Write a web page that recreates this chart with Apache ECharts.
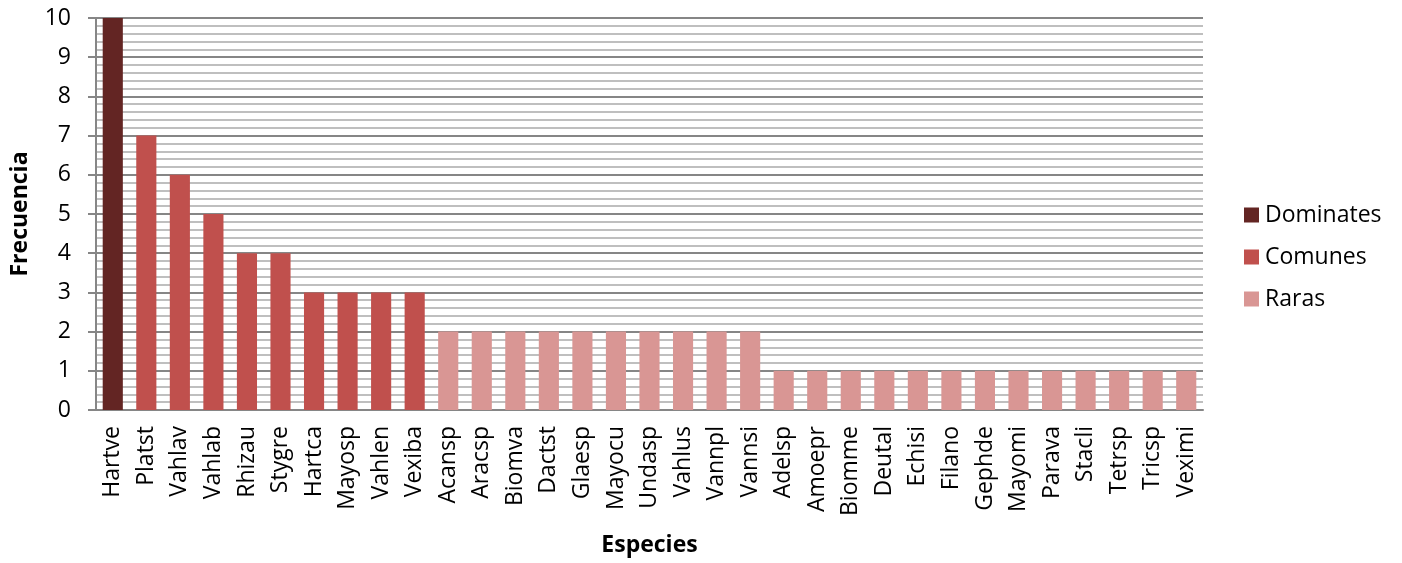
<!DOCTYPE html>
<html>
<head>
<meta charset="utf-8">
<script src="https://cdn.jsdelivr.net/npm/echarts@6/dist/echarts.min.js"></script>
<style>html,body{margin:0;padding:0;background:#fff}#c{width:1402px;height:563px}</style>
</head>
<body>
<div id="c"></div>
<script>
const categories = ["Hartve","Platst","Vahlav","Vahlab","Rhizau","Stygre","Hartca","Mayosp","Vahlen","Vexiba",
  "Acansp","Aracsp","Biomva","Dactst","Glaesp","Mayocu","Undasp","Vahlus","Vannpl","Vannsi",
  "Adelsp","Amoepr","Biomme","Deutal","Echisi","Filano","Gephde","Mayomi","Parava","Stacli","Tetrsp","Tricsp","Veximi"];
const dominates = [10,null,null,null,null,null,null,null,null,null,
  null,null,null,null,null,null,null,null,null,null,
  null,null,null,null,null,null,null,null,null,null,null,null,null];
const comunes = [null,7,6,5,4,4,3,3,3,3,
  null,null,null,null,null,null,null,null,null,null,
  null,null,null,null,null,null,null,null,null,null,null,null,null];
const raras = [null,null,null,null,null,null,null,null,null,null,
  2,2,2,2,2,2,2,2,2,2,
  1,1,1,1,1,1,1,1,1,1,1,1,1];
const seriesNames = ["Dominates","Comunes","Raras"];
const yTicks = [0,1,2,3,4,5,6,7,8,9,10];

const FONT = "'Open Sans', sans-serif";
const FS = 23;
const chart = echarts.init(document.getElementById('c'), null, {renderer:'canvas'});
const colors = ['#632523','#C0504D','#D99694'];
const dataSets = [dominates, comunes, raras];
chart.setOption({
  animation:false,
  textStyle:{fontFamily:FONT},
  grid:{left:96,right:199,top:18,bottom:153,containLabel:false,outerBoundsMode:'none'},
  legend:{
    orient:'vertical', left:1244, top:203, itemGap:18, padding:0,
    itemWidth:15, itemHeight:15, icon:'rect',
    textStyle:{fontFamily:FONT,fontSize:FS,lineHeight:24,color:'#000',padding:[0,0,0,1]},
    data:seriesNames
  },
  xAxis:{
    type:'category', data:categories,
    name:'Especies', nameLocation:'middle', nameGap:124,
    nameTextStyle:{fontFamily:FONT,fontSize:FS,fontWeight:'bold',color:'#000'},
    axisLine:{lineStyle:{color:'#868686',width:2}},
    axisTick:{show:false},
    axisLabel:{rotate:90,interval:0,fontSize:FS,color:'#000',margin:16,fontFamily:FONT},
    splitLine:{show:false}
  },
  yAxis:{
    type:'value', min:0, max:10, interval:1,
    name:'Frecuencia', nameLocation:'middle', nameGap:64,
    nameTextStyle:{fontFamily:FONT,fontSize:FS,fontWeight:'bold',color:'#000'},
    axisLine:{show:true,lineStyle:{color:'#868686',width:2}},
    axisTick:{show:true,length:8,lineStyle:{color:'#868686',width:2}},
    axisLabel:{fontSize:FS,color:'#000',margin:25,fontFamily:FONT,
      formatter:v=>yTicks.includes(v)?String(v):''},
    splitLine:{show:true,lineStyle:{color:'#868686',width:2}},
    minorTick:{show:false,splitNumber:5},
    minorSplitLine:{show:true,lineStyle:{color:'#BFBFBF',width:2}}
  },
  series:seriesNames.map((n,i)=>({
    name:n, type:'bar', stack:'total', data:dataSets[i],
    barWidth:'60%', itemStyle:{color:colors[i]}
  }))
});
</script>
</body>
</html>
